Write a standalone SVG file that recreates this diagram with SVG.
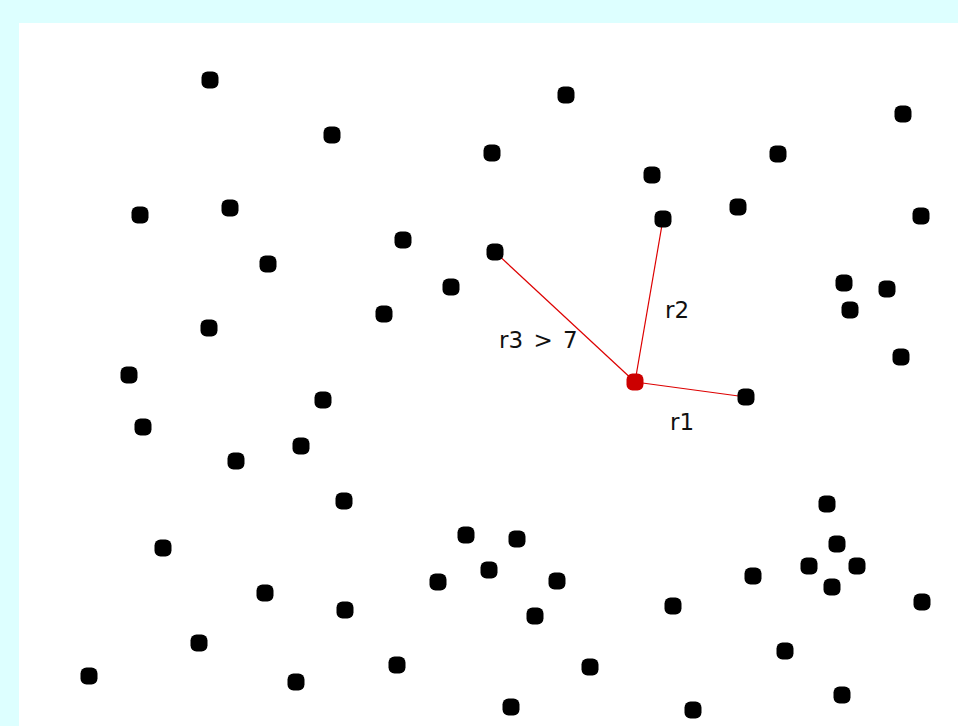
<svg xmlns="http://www.w3.org/2000/svg" width="958" height="726" viewBox="0 0 958 726">
<style>
.dot{fill:#000}
.red{fill:#cc0000}
.edge{stroke:#dd0000;stroke-width:1.2;fill:none}
.lbl{font-family:"DejaVu Sans",sans-serif;font-size:23px;fill:#111}
</style>
<defs>
<rect id="d" x="-8.5" y="-8.5" width="17" height="17" rx="6"/>
</defs>
<rect width="958" height="726" fill="#ddffff"/>
<rect x="19" y="23" width="939" height="703" fill="#ffffff"/>
<g id="connectors">
<line class="edge" x1="635" y1="382" x2="495" y2="252"/>
<line class="edge" x1="635" y1="382" x2="663" y2="219"/>
<line class="edge" x1="635" y1="382" x2="746" y2="397"/>
</g>
<g id="labels">
<text class="lbl" x="499" y="348" word-spacing="3">r3 &gt; 7</text>
<text class="lbl" x="665" y="318">r2</text>
<text class="lbl" x="670" y="430">r1</text>
</g>
<g class="dot">
<g id="p1"><use href="#d" x="210" y="80"/></g>
<g id="p2"><use href="#d" x="566" y="95"/></g>
<g id="p3"><use href="#d" x="332" y="135"/></g>
<g id="p4"><use href="#d" x="492" y="153"/></g>
<g id="p5"><use href="#d" x="903" y="114"/></g>
<g id="p6"><use href="#d" x="778" y="154"/></g>
<g id="p7"><use href="#d" x="652" y="175"/></g>
<g id="p8"><use href="#d" x="140" y="215"/></g>
<g id="p9"><use href="#d" x="230" y="208"/></g>
<g id="p10"><use href="#d" x="663" y="219"/></g>
<g id="p11"><use href="#d" x="738" y="207"/></g>
<g id="p12"><use href="#d" x="921" y="216"/></g>
<g id="p13"><use href="#d" x="403" y="240"/></g>
<g id="p14"><use href="#d" x="495" y="252"/></g>
<g id="p15"><use href="#d" x="268" y="264"/></g>
<g id="p16"><use href="#d" x="451" y="287"/></g>
<g id="p17"><use href="#d" x="844" y="283"/></g>
<g id="p18"><use href="#d" x="887" y="289"/></g>
<g id="p19"><use href="#d" x="850" y="310"/></g>
<g id="p20"><use href="#d" x="384" y="314"/></g>
<g id="p21"><use href="#d" x="209" y="328"/></g>
<g id="p22"><use href="#d" x="901" y="357"/></g>
<g id="p23"><use href="#d" x="129" y="375"/></g>
<g id="p24"><use href="#d" x="746" y="397"/></g>
<g id="p25"><use href="#d" x="323" y="400"/></g>
<g id="p26"><use href="#d" x="143" y="427"/></g>
<g id="p27"><use href="#d" x="301" y="446"/></g>
<g id="p28"><use href="#d" x="236" y="461"/></g>
<g id="p29"><use href="#d" x="344" y="501"/></g>
<g id="p30"><use href="#d" x="827" y="504"/></g>
<g id="p31"><use href="#d" x="466" y="535"/></g>
<g id="p32"><use href="#d" x="517" y="539"/></g>
<g id="p33"><use href="#d" x="837" y="544"/></g>
<g id="p34"><use href="#d" x="163" y="548"/></g>
<g id="p35"><use href="#d" x="809" y="566"/></g>
<g id="p36"><use href="#d" x="857" y="566"/></g>
<g id="p37"><use href="#d" x="489" y="570"/></g>
<g id="p38"><use href="#d" x="438" y="582"/></g>
<g id="p39"><use href="#d" x="557" y="581"/></g>
<g id="p40"><use href="#d" x="753" y="576"/></g>
<g id="p41"><use href="#d" x="832" y="587"/></g>
<g id="p42"><use href="#d" x="265" y="593"/></g>
<g id="p43"><use href="#d" x="345" y="610"/></g>
<g id="p44"><use href="#d" x="673" y="606"/></g>
<g id="p45"><use href="#d" x="535" y="616"/></g>
<g id="p46"><use href="#d" x="922" y="602"/></g>
<g id="p47"><use href="#d" x="199" y="643"/></g>
<g id="p48"><use href="#d" x="785" y="651"/></g>
<g id="p49"><use href="#d" x="397" y="665"/></g>
<g id="p50"><use href="#d" x="590" y="667"/></g>
<g id="p51"><use href="#d" x="89" y="676"/></g>
<g id="p52"><use href="#d" x="296" y="682"/></g>
<g id="p53"><use href="#d" x="842" y="695"/></g>
<g id="p54"><use href="#d" x="511" y="707"/></g>
<g id="p55"><use href="#d" x="693" y="710"/></g>
</g>
<g id="center" class="red"><use href="#d" x="635" y="382"/></g>
</svg>
